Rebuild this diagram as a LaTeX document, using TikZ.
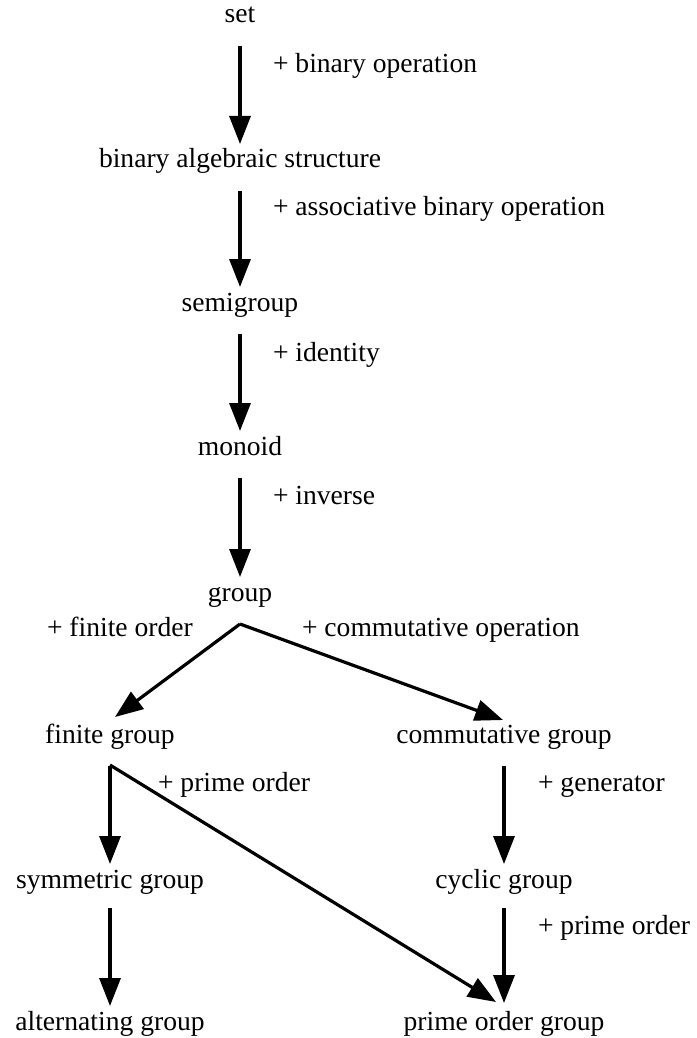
\documentclass[tikz,border=0pt]{standalone}
\usepackage{fontspec}
\setmainfont{Liberation Serif}
\usetikzlibrary{arrows.meta}
\begin{document}
\begin{tikzpicture}[x=0.5pt,y=-0.5pt,
  every node/.style={font=\fontsize{13.8pt}{16pt}\selectfont, inner sep=0pt, outer sep=0pt},
  term/.style={anchor=base, text height=9.5pt, text depth=3pt},
  lab/.style={anchor=base west},
  arr/.style={line width=1.6pt, -{Triangle[length=14pt,width=10.5pt]}},
  varr/.style={arr, shorten <=8.5pt, shorten >=2.5pt}]
\useasboundingbox (0,0) rectangle (696,1038);
% nodes
\node[term] (set) at (240,23) {set};
\node[term] (bas) at (240,168) {binary algebraic structure};
\node[term] (semi) at (240,311) {semigroup};
\node[term] (mon) at (240,455) {monoid};
\node[term] (grp) at (240,601) {group};
\node[term] (fin) at (110,743) {finite group};
\node[term] (com) at (504,743) {commutative group};
\node[term] (sym) at (110,888) {symmetric group};
\node[term] (cyc) at (504,888) {cyclic group};
\node[term] (alt) at (110,1030) {alternating group};
\node[term] (pri) at (504,1030) {prime order group};
% labels
\node[lab] (l1) at (273,73) {+ binary operation};
\node[lab] (l2) at (273,215) {+ associative binary operation};
\node[lab] (l3) at (273,361) {+ identity};
\node[lab] (l4) at (273,504) {+ inverse};
\node[lab] (l5) at (47,636) {+ finite order};
\node[lab] (l6) at (302,636) {+ commutative operation};
\node[lab] (l7) at (158,791) {+ prime order};
\node[lab] (l8) at (538,791) {+ generator};
\node[lab] (l9) at (538,934) {+ prime order};
% connectors
\draw[varr] (set) -- (bas);
\draw[varr] (bas) -- (semi);
\draw[varr] (semi) -- (mon);
\draw[varr] (mon) -- (grp);
\draw[arr] ([yshift=-8.5pt]grp.south) -- ([xshift=2.5pt,yshift=3.5pt]fin.north);
\draw[arr] ([yshift=-8.5pt]grp.south) -- ([xshift=-0.5pt,yshift=2pt]com.north);
\draw[varr] (fin) -- (sym);
\draw[arr] ([yshift=-8pt]fin.south) -- ([xshift=-4pt,yshift=4.5pt]pri.north);
\draw[varr] (com) -- (cyc);
\draw[varr, shorten <=7pt] (sym) -- (alt);
\draw[varr, shorten <=7pt, shorten >=4pt] (cyc) -- (pri);
\end{tikzpicture}
\end{document}
